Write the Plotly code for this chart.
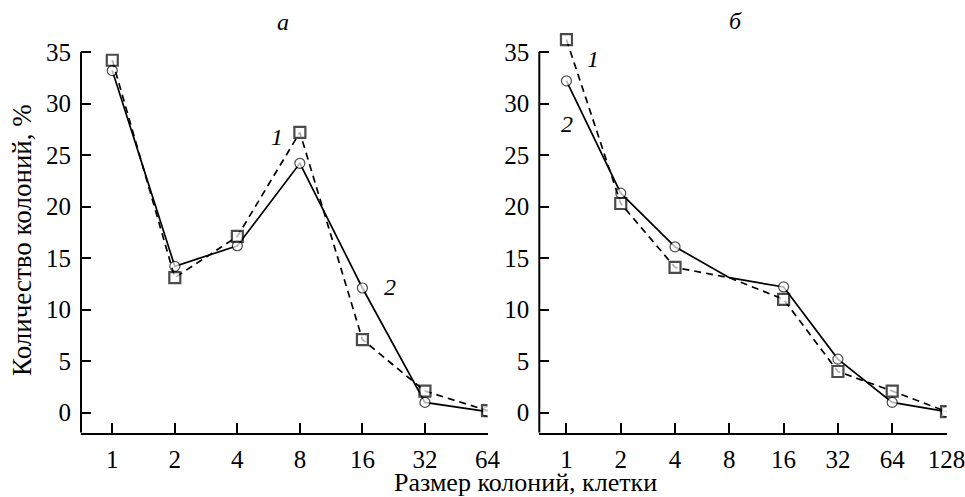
import plotly.graph_objects as go

W, H = 965, 497

# ---- data ----
sizes_a = ["1", "2", "4", "8", "16", "32", "64"]
a_series1 = [34.2, 13.1, 17.1, 27.2, 7.1, 2.1, 0.2]     # squares, dashed
a_series2 = [33.2, 14.2, 16.2, 24.2, 12.1, 1.0, 0.1]    # circles, solid

sizes_b = ["1", "2", "4", "8", "16", "32", "64", "128"]
b_series1 = [36.2, 20.3, 14.1, 13.1, 11.0, 4.0, 2.1, 0.1]
b_series2 = [32.2, 21.3, 16.1, 13.1, 12.2, 5.2, 1.0, 0.1]
b_marker_shown = [1, 1, 1, 0, 1, 1, 1, 1]   # no symbols drawn at size 8

y_ticks = [0, 5, 10, 15, 20, 25, 30, 35]

FONT = "Liberation Serif"
FS = 25
FS_TITLE = 27
FS_NOTE = 24

def px(x):
    return x / W

def py(y):
    return 1 - y / H

fig = go.Figure()

def add_pair(xcats, s1, s2, xa, ya, shown=None):
    n = len(xcats)
    if shown is None:
        shown = [1] * n
    sz_c = [10 if s else 0 for s in shown]
    sz_s = [11 if s else 0 for s in shown]
    fig.add_trace(go.Scatter(
        x=xcats, y=s2, xaxis=xa, yaxis=ya, mode="lines+markers",
        line=dict(color="black", width=1.7),
        marker=dict(symbol="circle", size=sz_c, color="white",
                    line=dict(color="black", width=1.2)),
        showlegend=False))
    fig.add_trace(go.Scatter(
        x=xcats, y=s1, xaxis=xa, yaxis=ya, mode="lines+markers",
        line=dict(color="black", width=1.7, dash="7px,5px"),
        marker=dict(symbol="square", size=sz_s, color="white",
                    line=dict(color="black", width=2.2)),
        showlegend=False))

add_pair(sizes_a, a_series1, a_series2, "x", "y")
add_pair(sizes_b, b_series1, b_series2, "x2", "y2", b_marker_shown)

Y_MIN, Y_MAX = -1.94, 38
unit = (412.7 - 52) / 35.0
y_bot = py(432.7)
y_top = py(412.7 - Y_MAX * unit)
ax_common = dict(linecolor="black", linewidth=2,
                 ticks="inside", ticklen=10, tickwidth=2, tickcolor="black",
                 showgrid=False, zeroline=False, automargin=False,
                 tickfont=dict(family=FONT, size=FS, color="black"))

fig.update_layout(
    width=W, height=H,
    margin=dict(l=0, r=0, t=0, b=0),
    paper_bgcolor="white", plot_bgcolor="rgba(0,0,0,0)",
    font=dict(family=FONT, size=FS, color="black"),
    xaxis=dict(domain=[px(81), px(487.5)], type="category",
               categoryorder="array", categoryarray=sizes_a, showline=True,
               range=[-0.5, 6], anchor="y", ticklabelstandoff=3, **ax_common),
    yaxis=dict(domain=[y_bot, y_top], range=[Y_MIN, Y_MAX], anchor="x",
               showline=False,
               tickvals=y_ticks, ticklabelstandoff=9, **ax_common),
    xaxis2=dict(domain=[px(539.3), px(946.5)], type="category",
                categoryorder="array", categoryarray=sizes_b, showline=True,
                range=[-0.5, 7], anchor="y2", ticklabelstandoff=3, **ax_common),
    yaxis2=dict(domain=[y_bot, y_top], range=[Y_MIN, Y_MAX], anchor="x2",
                showline=False,
                tickvals=y_ticks, ticklabelstandoff=9, **ax_common),
)

# y-axis lines stop at the top tick (35)
for xr, yr in (("x domain", "y"), ("x2 domain", "y2")):
    fig.add_shape(type="line", xref=xr, yref=yr, x0=0, x1=0,
                  y0=Y_MIN, y1=max(y_ticks),
                  line=dict(color="black", width=2), layer="above")

def note(text, x, y, italic=True, angle=0, size=FS_NOTE):
    t = f"<i>{text}</i>" if italic else text
    fig.add_annotation(text=t, x=px(x), y=py(y), xref="paper", yref="paper",
                       showarrow=False, textangle=angle,
                       font=dict(family=FONT, size=size, color="black"),
                       xanchor="center", yanchor="middle")

note("а", 283, 22)
note("б", 735, 21)
note("1", 277, 137)
note("2", 390, 287)
note("1", 593, 59)
note("2", 567, 124)
note("Количество колоний, %", 22, 240, italic=False, angle=-90, size=FS_TITLE)
note("Размер колоний, клетки", 525, 482, italic=False, size=26)

fig.write_html("out.html", config={"displayModeBar": False},
               post_script="document.body.style.margin='0';document.body.style.padding='0';")
